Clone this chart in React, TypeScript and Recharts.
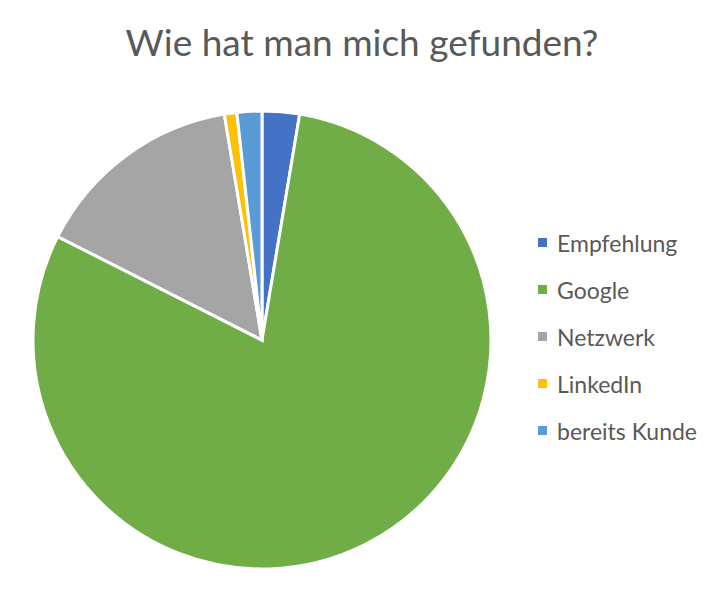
import React from 'react'
import { PieChart, Pie, Cell, Legend } from 'recharts'

const categories = ['Empfehlung', 'Google', 'Netzwerk', 'LinkedIn', 'bereits Kunde']
const counts = [3, 91, 17, 1, 2]
const colors = ['#4472C4', '#70AD47', '#A5A5A5', '#FFC000', '#5B9BD5']

const data = categories.map((name, i) => ({ name, value: counts[i] }))

const FONT = 'Lato, "Open Sans", "Liberation Sans", sans-serif'

// legend keeps the data order (Recharts would sort it by name)
const renderLegend = () => (
    <div>
        {categories.map((name, index) => (
            <div
                key={name}
                style={{ display: 'flex', alignItems: 'center', height: 47, fontFamily: FONT, fontSize: 23, color: '#595959' }}
            >
                <div style={{ width: 9, height: 9, background: colors[index], marginRight: 10 }}></div>
                <span>{name}</span>
            </div>
        ))}
    </div>
)

export default function App() {
    return (
        <div style={{ position: 'absolute', left: 0, top: 0, width: 724, height: 600, background: '#fff' }}>
            <div
                style={{
                    position: 'absolute',
                    top: 19,
                    left: 0,
                    width: 724,
                    textAlign: 'center',
                    fontFamily: FONT,
                    fontSize: 37,
                    color: '#595959'
                }}
            >
                Wie hat man mich gefunden?
            </div>
            <PieChart
                width={724}
                height={600}
                margin={{ top: 0, right: 0, bottom: 0, left: 0 }}
                style={{ position: 'absolute', left: 0, top: 0 }}
            >
                <Pie
                    data={data}
                    dataKey="value"
                    nameKey="name"
                    cx={262}
                    cy={340}
                    outerRadius={229}
                    startAngle={90}
                    endAngle={-270}
                    stroke="#fff"
                    strokeWidth={3}
                    isAnimationActive={false}
                >
                    {data.map((entry, index) => (
                        <Cell key={entry.name} fill={colors[index]} />
                    ))}
                </Pie>
                <Legend
                    content={renderLegend}
                    layout="vertical"
                    wrapperStyle={{ position: 'absolute', left: 538, top: 219, width: 186 }}
                />
            </PieChart>
        </div>
    )
}
